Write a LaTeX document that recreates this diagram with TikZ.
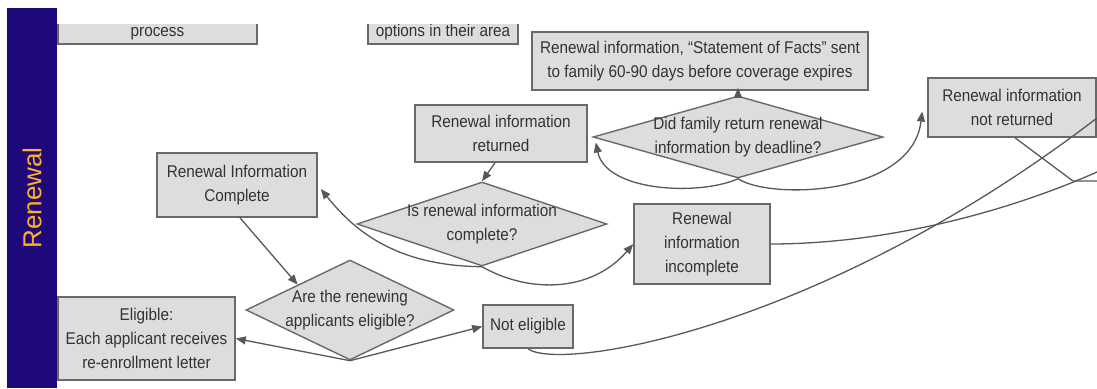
\documentclass[tikz,border=0pt]{standalone}
\usepackage{fontspec}
\setmainfont[FakeStretch=0.9]{Liberation Sans}
\newfontfamily\lanefont{Liberation Sans}
\usepackage{tikz}
\usetikzlibrary{shapes.geometric, arrows.meta, calc}
\definecolor{lanebg}{RGB}{31, 9, 122}
\definecolor{lanetext}{RGB}{255, 178, 36}
\definecolor{boxfill}{RGB}{221, 221, 221}
\definecolor{boxline}{RGB}{105, 105, 105}
\definecolor{linkgray}{RGB}{88, 88, 88}

\begin{document}
\begin{tikzpicture}[
    x=1pt, y=-1pt,
    box/.style={rectangle, draw=boxline, fill=boxfill, line width=1.6pt, align=center, inner sep=0pt, text=black!80, font=\fontsize{17}{24}\selectfont},
    decision/.style={diamond, draw=boxline, fill=boxfill, line width=1.4pt, inner sep=0pt},
    qtext/.style={align=center, text=black!80, font=\fontsize{17}{24}\selectfont},
    lane/.style={rectangle, fill=lanebg, text=lanetext, rotate=90, minimum width=380pt, minimum height=50pt, font=\lanefont\fontsize{26}{30}\selectfont},
    arrow/.style={-{Triangle[length=10pt, width=8pt]}, draw=linkgray, line width=1.3pt},
    link/.style={draw=linkgray, line width=1.3pt}
]
    \useasboundingbox (0,0) rectangle (1097,388);

    % Lane
    \node[lane] (lane) at (32,198) {Renewal};

    % Boxes cut off by the lane above
    \begin{scope}
        \clip (57,24) rectangle (1097,388);
        \node[box, anchor=south, minimum width=199pt, text height=46pt, text depth=5pt, inner ysep=3pt] (process) at (157.5,45) {process};
        \node[box, anchor=south, minimum width=150pt, text height=46pt, text depth=5pt, inner ysep=3pt] (areaopts) at (443,45) {options in their area};
    \end{scope}

    % Renewal notice
    \node[box, minimum width=336pt, minimum height=58pt] (facts) at (700,61) {Renewal information, ``Statement of Facts'' sent\\to family 60-90 days before coverage expires};

    % Deadline check
    \node[decision, minimum width=290pt, minimum height=82pt] (qdeadline) at (738,137) {};
    \node[qtext] (qdeadline-text) at (qdeadline) {Did family return renewal\\information by deadline?};

    \node[box, minimum width=172pt, minimum height=57pt] (returned) at (501,133.5) {Renewal information\\returned};
    \node[box, minimum width=168pt, minimum height=59pt] (notreturned) at (1012,107.5) {Renewal information\\not returned};

    % Completeness check
    \node[decision, minimum width=250pt, minimum height=84pt] (qcomplete) at (482,224) {};
    \node[qtext] (qcomplete-text) at (qcomplete) {Is renewal information\\complete?};

    \node[box, minimum width=160pt, minimum height=64pt] (complete) at (237,185) {Renewal Information\\Complete};
    \node[box, minimum width=136pt, minimum height=80pt] (incomplete) at (702,244) {Renewal\\information\\incomplete};

    % Eligibility check
    \node[decision, minimum width=208pt, minimum height=100pt] (qeligible) at (350,310) {};
    \node[qtext] (qeligible-text) at (qeligible) {Are the renewing\\applicants eligible?};

    \node[box, minimum width=177pt, minimum height=83pt] (eligible) at (146.5,338.5) {Eligible:\\Each applicant receives\\re-enrollment letter};
    \node[box, minimum width=90pt, minimum height=43pt] (noteligible) at (528,326.5) {Not eligible};

    % Exits on the right
    \coordinate (exitNE) at (1097,118);
    \coordinate (exitInc) at (1097,172);
    \coordinate (bendNR) at (1073,181);
    \coordinate (exitNR) at (1097,181);

    % Arrows from the deadline check
    \draw[arrow] (qdeadline.north) -- ([yshift=3pt]qdeadline.north |- facts.south);
    \draw[arrow] (qdeadline.south) .. controls (700,196) and (606,192) .. ([shift={(8,9)}]returned.east);
    \draw[arrow] (qdeadline.south) .. controls (770,200) and (912,196) .. ([shift={(-5,4)}]notreturned.west);

    % Arrows around the completeness check
    \draw[arrow] ([xshift=-6pt]returned.south) -- (qcomplete.north);
    \draw[arrow] (qcomplete.south) .. controls (390,266) and (350,225) .. ([shift={(3,4)}]complete.east);
    \draw[arrow] (qcomplete.south) .. controls (530,294) and (592,292) .. (incomplete.west);

    % Arrows around the eligibility check
    \draw[arrow] ([xshift=3pt]complete.south) -- (qeligible.north west);
    \draw[arrow] (qeligible.south) -- (eligible.east);
    \draw[arrow] (qeligible.south) -- (noteligible.west);

    % Links leaving the picture
    \draw[link] (noteligible.south) .. controls (560,372) and (820,330) .. (exitNE);
    \draw[link] (incomplete.east) .. controls (880,244) and (1000,215) .. (exitInc);
    \draw[link] ([xshift=3pt]notreturned.south) -- (bendNR) -- (exitNR);

\end{tikzpicture}
\end{document}
